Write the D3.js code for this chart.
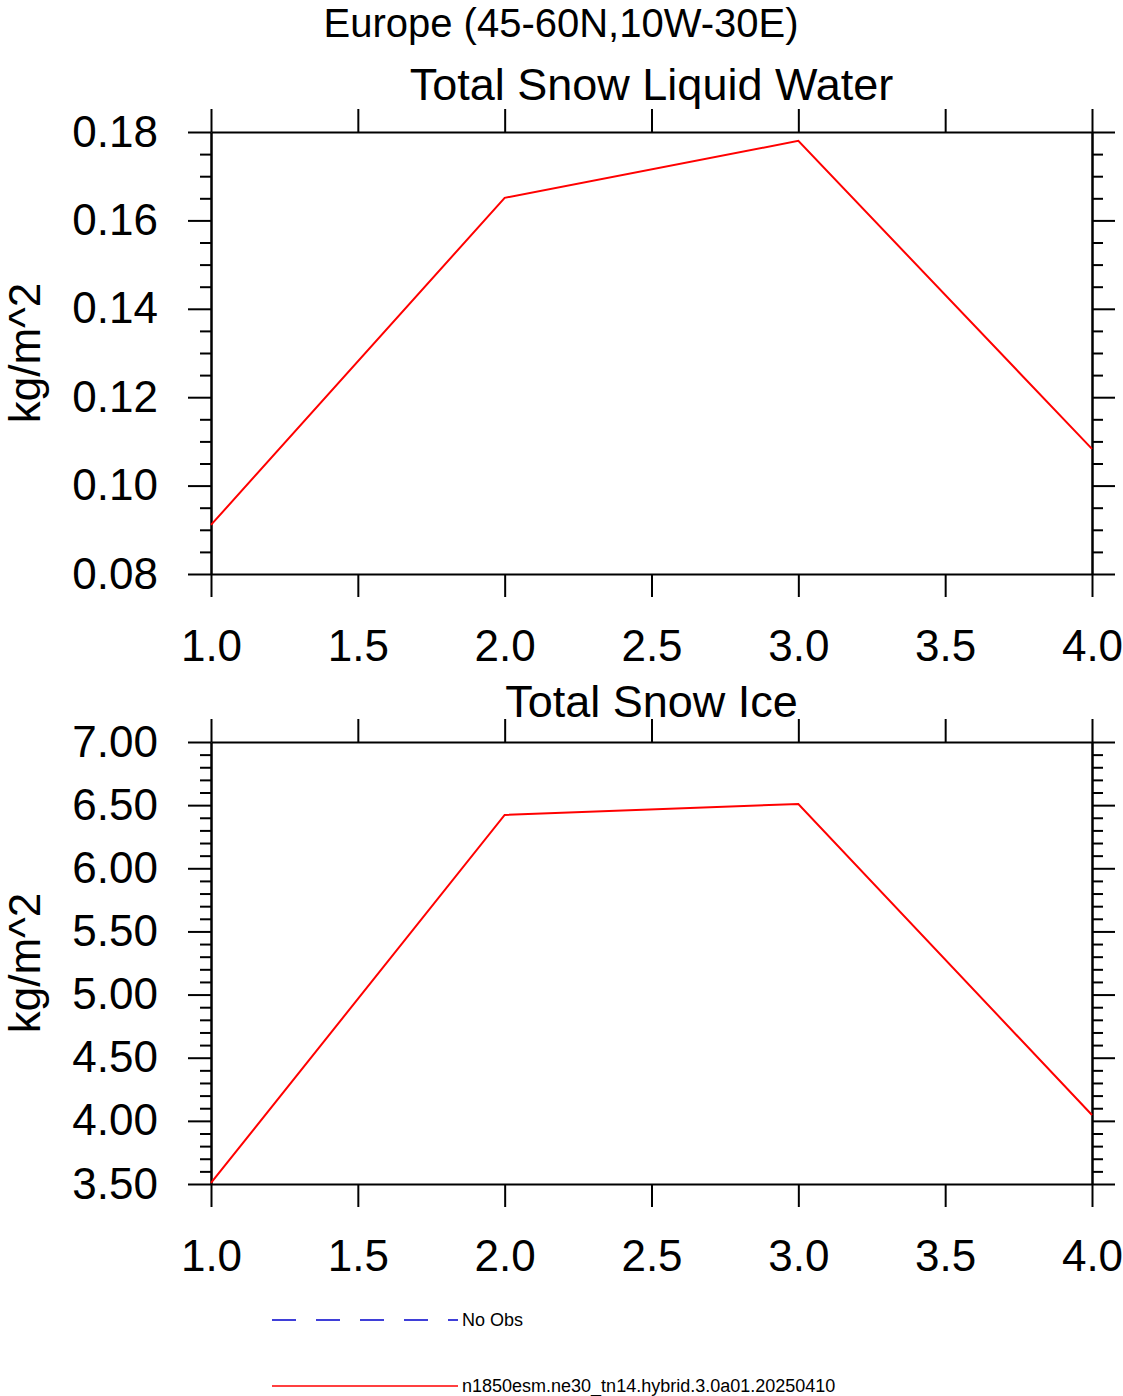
<!DOCTYPE html>
<html lang="en">
<head>
    <meta charset="UTF-8">
    <title>Europe snow</title>
    <script src="https://d3js.org/d3.v7.min.js"></script>
    <style>
        body {
            margin: 0;
            padding: 0;
            background: #ffffff;
            font-family: "Liberation Sans", Arial, Helvetica, sans-serif;
        }
        .axis path, .axis line {
            stroke: #000;
            stroke-width: 2px;
        }
        .axis text {
            font-family: "Liberation Sans", Arial, sans-serif;
            font-size: 44px;
            fill: #000;
        }
        .title {
            font-size: 45px;
            text-anchor: middle;
        }
    </style>
</head>
<body>
    <div id="chart"></div>
    <script>
        // values
        const xValues = [1, 2, 3, 4];
        const liquidWater = [0.0911, 0.1651, 0.1780, 0.1083];
        const snowIce = [3.508, 6.422, 6.509, 4.046];

        const xTicks = [1.0, 1.5, 2.0, 2.5, 3.0, 3.5, 4.0];
        const liquidTicks = [0.08, 0.10, 0.12, 0.14, 0.16, 0.18];
        const iceTicks = [3.5, 4.0, 4.5, 5.0, 5.5, 6.0, 6.5, 7.0];

        const mainTitle = "Europe (45-60N,10W-30E)";
        const panelTitles = ["Total Snow Liquid Water", "Total Snow Ice"];
        const unitsLabel = "kg/m^2";
        const legendLabels = ["No Obs", "n1850esm.ne30_tn14.hybrid.3.0a01.20250410"];
        const legendColors = ["#0000cc", "red"];

        const width = 1123;
        const height = 1396;
        const left = 211, right = 1092;

        const svg = d3.select("#chart")
            .append("svg")
            .attr("width", width)
            .attr("height", height);

        // page title
        svg.append("text")
            .attr("x", 561)
            .attr("y", 37)
            .attr("text-anchor", "middle")
            .style("font-size", "40px")
            .text(mainTitle);

        // minor tick values between two majors
        function minors(ticks, n) {
            const out = [];
            for (let i = 0; i < ticks.length - 1; i++) {
                const step = (ticks[i + 1] - ticks[i]) / (n + 1);
                for (let k = 1; k <= n; k++) out.push(ticks[i] + step * k);
            }
            return out;
        }

        function drawPanel(top, bottom, values, yTicks, yFormat, nMinor, title, titleGap) {
            const x = d3.scaleLinear().domain([1, 4]).range([left, right]);
            const y = d3.scaleLinear().domain([yTicks[0], yTicks[yTicks.length - 1]]).range([bottom, top]);

            // bottom axis with labels
            svg.append("g")
                .attr("class", "axis")
                .attr("transform", `translate(0,${bottom})`)
                .call(d3.axisBottom(x).tickValues(xTicks).tickSize(23).tickSizeOuter(0)
                    .tickPadding(33).tickFormat(d3.format(".1f")));

            // top axis, ticks only
            svg.append("g")
                .attr("class", "axis")
                .attr("transform", `translate(0,${top})`)
                .call(d3.axisTop(x).tickValues(xTicks).tickSize(23).tickSizeOuter(0).tickFormat(""));

            // left axis
            svg.append("g")
                .attr("class", "axis")
                .attr("transform", `translate(${left},0)`)
                .call(d3.axisLeft(y).tickValues(yTicks).tickSize(23).tickSizeOuter(0)
                    .tickPadding(30).tickFormat(d3.format(yFormat)));
            svg.append("g")
                .attr("class", "axis")
                .attr("transform", `translate(${left},0)`)
                .call(d3.axisLeft(y).tickValues(minors(yTicks, nMinor)).tickSize(11).tickSizeOuter(0).tickFormat(""));

            // right axis
            svg.append("g")
                .attr("class", "axis")
                .attr("transform", `translate(${right},0)`)
                .call(d3.axisRight(y).tickValues(yTicks).tickSize(23).tickSizeOuter(0).tickFormat(""));
            svg.append("g")
                .attr("class", "axis")
                .attr("transform", `translate(${right},0)`)
                .call(d3.axisRight(y).tickValues(minors(yTicks, nMinor)).tickSize(11).tickSizeOuter(0).tickFormat(""));

            // title
            svg.append("text")
                .attr("class", "title")
                .attr("x", (left + right) / 2)
                .attr("y", top - titleGap)
                .text(title);

            // y label
            svg.append("text")
                .attr("transform", `translate(40,${(top + bottom) / 2}) rotate(-90)`)
                .attr("text-anchor", "middle")
                .style("font-size", "44px")
                .text(unitsLabel);

            // data line
            const line = d3.line()
                .x((d, i) => x(xValues[i]))
                .y(d => y(d));

            svg.append("path")
                .datum(values)
                .attr("fill", "none")
                .attr("stroke", "red")
                .attr("stroke-width", 2)
                .attr("d", line);
        }

        drawPanel(132, 574, liquidWater, liquidTicks, ".2f", 3, panelTitles[0], 32);
        drawPanel(742, 1184, snowIce, iceTicks, ".2f", 4, panelTitles[1], 25);

        // legend
        const legendY = [1320, 1386];
        const legend = svg.append("g");
        legendLabels.forEach((label, i) => {
            legend.append("line")
                .attr("x1", 272)
                .attr("x2", 458)
                .attr("y1", legendY[i])
                .attr("y2", legendY[i])
                .attr("stroke", legendColors[i])
                .attr("stroke-width", 1.5)
                .attr("stroke-dasharray", i === 0 ? "24,20" : null);
            legend.append("text")
                .attr("x", 462)
                .attr("y", legendY[i] + 6)
                .style("font-size", "18px")
                .text(label);
        });
    </script>
</body>
</html>
